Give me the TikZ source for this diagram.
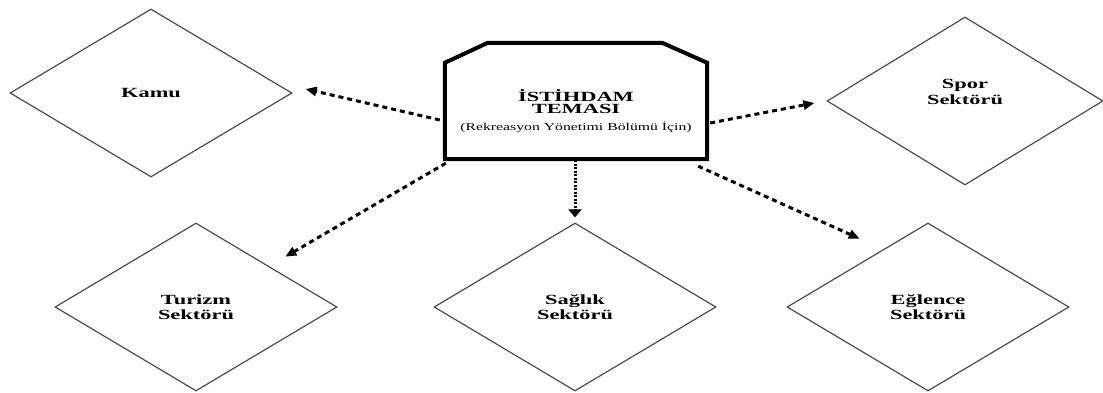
\documentclass[tikz,border=0pt]{standalone}
\usepackage{fontspec}
\setmainfont{Liberation Serif}[FakeStretch=1.5, BoldFeatures={FakeStretch=1.6}]
\usetikzlibrary{shapes.geometric,arrows.meta}
\newcommand{\ttlfont}{\fontsize{14}{15}\selectfont\bfseries}
\newcommand{\subtfont}{\fontsize{10.5}{15}\selectfont\mdseries}
\begin{document}
\begin{tikzpicture}[x=1pt,y=1pt,
  dia/.style={diamond, draw=black!70, line width=1.2pt, minimum width=282pt, minimum height=168pt,
    inner sep=0pt, align=center, font=\fontsize{14}{15.5}\selectfont\bfseries},
  link/.style={line width=3pt, dash pattern=on 5pt off 4pt, -{Triangle[length=11pt,width=9pt]}},
  linkfine/.style={line width=3pt, dash pattern=on 2pt off 1.5pt, -{Triangle[length=8pt,width=13pt]}},
  themebox/.style={minimum width=262pt, minimum height=93pt, inner sep=0pt, align=center},
]
\useasboundingbox (0,0) rectangle (1103,392);
\fill[white] (0,0) rectangle (1103,392);

\node[dia] (kamu) at (151,299) {Kamu};
\node[dia, minimum width=276pt,
  label={[align=center, font=\fontsize{14}{15.5}\selectfont\bfseries, yshift=9pt]center:Spor\\Sektörü}]
  (spor) at (965,291) {};
\node[dia] (turizm) at (196,85) {Turizm\\Sektörü};
\node[dia] (saglik) at (575,85) {Sağlık\\Sektörü};
\node[dia] (eglence) at (928,85) {Eğlence\\Sektörü};

\node[themebox] (box) at (576,281)
  {\ttlfont İSTİHDAM\\\ttlfont TEMASI\\[5pt]\subtfont (Rekreasyon Yönetimi Bölümü İçin)};
\draw[line width=4pt, line join=miter]
  ([yshift=1.5]box.north west) -- ([shift={(43,21.5)}]box.north west) -- ([shift={(-45,21.5)}]box.north east)
  -- ([yshift=1.5]box.north east) -- ([yshift=-1.5]box.south east) -- ([yshift=-1.5]box.south west) -- cycle;

\draw[link] ([shift={(-5,-9)}]box.west) -- ([shift={(13,4)}]kamu.east);
\draw[link] ([shift={(1,-5.5)}]box.south west) -- ([shift={(18.5,8)}]turizm.north east);
\draw[link] ([shift={(3,-12)}]box.east) -- ([shift={(-12,-2)}]spor.west);
\draw[link] ([shift={(-9,-8.5)}]box.south east) -- ([shift={(2.5,26)}]eglence.north west);
\draw[linkfine] ([shift={(-1,-2.5)}]box.south) -- ([shift={(0,5)}]saglik.north);
\end{tikzpicture}
\end{document}
